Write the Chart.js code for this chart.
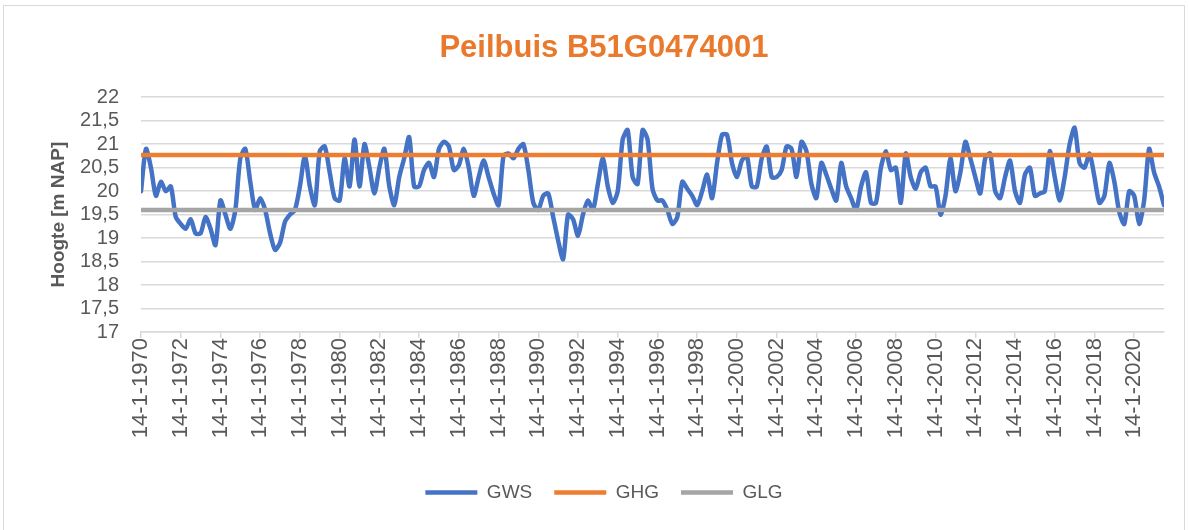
<!DOCTYPE html>
<html>
<head>
<meta charset="utf-8">
<script src="https://cdn.jsdelivr.net/npm/chart.js@4.4.1/dist/chart.umd.min.js"></script>
<style>
  html, body { margin: 0; padding: 0; background: #fff; }
  .frame { position: absolute; left: 3px; top: 5px; width: 1182px; height: 540px;
           border: 1px solid #d9d9d9; box-sizing: border-box; }
  #grafiek { position: absolute; left: 0; top: 0; }
</style>
</head>
<body>
<div class="frame"></div>
<canvas id="grafiek" width="1189" height="530"></canvas>
<script>
// Grondwaterstand peilbuis, kwartaalwaarden (m NAP)
const startJaar = 1970;
const perJaar = 4;
const gws = [
  20.0, 20.9, 20.5, 19.9,    // 1970
  20.2, 20.0, 20.1, 19.45,   // 1971
  19.3, 19.2, 19.4, 19.1,    // 1972
  19.1, 19.45, 19.2, 18.85,  // 1973
  19.8, 19.5, 19.2, 19.6,    // 1974
  20.7, 20.9, 20.2, 19.6,    // 1975
  19.85, 19.6, 19.1, 18.75,  // 1976
  18.9, 19.35, 19.5, 19.6,   // 1977
  20.1, 20.75, 20.1, 19.7,   // 1978
  20.85, 20.95, 20.4, 19.85, // 1979
  19.8, 20.7, 20.1, 21.1,    // 1980
  20.1, 21.0, 20.5, 19.95,   // 1981
  20.5, 20.9, 20.1, 19.7,    // 1982
  20.3, 20.7, 21.15, 20.1,   // 1983
  20.1, 20.45, 20.6, 20.3,   // 1984
  20.9, 21.05, 20.95, 20.45, // 1985
  20.55, 20.9, 20.5, 19.9,   // 1986
  20.3, 20.65, 20.3, 19.95,  // 1987
  19.7, 20.75, 20.8, 20.7,   // 1988
  20.9, 21.0, 20.45, 19.75,  // 1989
  19.6, 19.9, 19.95, 19.45,  // 1990
  18.95, 18.55, 19.5, 19.4,  // 1991
  19.05, 19.5, 19.8, 19.6,   // 1992
  20.15, 20.7, 20.1, 19.75,  // 1993
  20.0, 21.1, 21.3, 20.3,    // 1994
  20.15, 21.3, 21.1, 20.05,  // 1995
  19.8, 19.8, 19.6, 19.3,    // 1996
  19.45, 20.2, 20.05, 19.9,  // 1997
  19.7, 20.0, 20.35, 19.85,  // 1998
  20.6, 21.2, 21.2, 20.6,    // 1999
  20.3, 20.65, 20.75, 20.1,  // 2000
  20.1, 20.7, 20.95, 20.3,   // 2001
  20.3, 20.45, 20.95, 20.9,  // 2002
  20.3, 21.05, 20.85, 20.15, // 2003
  19.85, 20.6, 20.35, 20.05, // 2004
  19.8, 20.6, 20.1, 19.85,   // 2005
  19.6, 20.1, 20.4, 19.75,   // 2006
  19.75, 20.5, 20.85, 20.45, // 2007
  20.5, 19.75, 20.8, 20.3,   // 2008
  20.05, 20.4, 20.5, 20.1,   // 2009
  20.1, 19.5, 19.9, 20.7,    // 2010
  20.0, 20.4, 21.05, 20.7,   // 2011
  20.3, 19.95, 20.7, 20.8,   // 2012
  20.0, 19.85, 20.3, 20.65,  // 2013
  20.0, 19.75, 20.35, 20.5,  // 2014
  19.9, 19.95, 20.0, 20.85,  // 2015
  20.3, 19.8, 20.3, 21.0,    // 2016
  21.35, 20.6, 20.5, 20.8,   // 2017
  20.3, 19.75, 19.9, 20.6,   // 2018
  20.2, 19.55, 19.3, 20.0,   // 2019
  19.9, 19.3, 19.8, 20.9,    // 2020
  20.4, 20.1, 19.7           // 2021
];
const ghg = 20.77;   // gemiddeld hoogste grondwaterstand
const glg = 19.6;    // gemiddeld laagste grondwaterstand
const xTicks = [1970, 1972, 1974, 1976, 1978, 1980, 1982, 1984, 1986, 1988,
  1990, 1992, 1994, 1996, 1998, 2000, 2002, 2004, 2006, 2008, 2010, 2012,
  2014, 2016, 2018, 2020];
const yTicks = [17, 17.5, 18, 18.5, 19, 19.5, 20, 20.5, 21, 21.5, 22];

const punten = gws.map((v, i) => ({ x: startJaar + i / perJaar, y: v }));
const xEind = punten[punten.length - 1].x;
const vlak = (v) => [{ x: startJaar, y: v }, { x: xEind, y: v }];

const GRIJS = "#595959";
const FONT = "'Liberation Sans', Arial, sans-serif";

new Chart(document.getElementById("grafiek"), {
  type: "line",
  data: {
    datasets: [
      { label: "GWS", data: punten, borderColor: "#4472C4", backgroundColor: "#4472C4",
        borderWidth: 4.5, tension: 0.25, order: 2 },
      { label: "GHG", data: vlak(ghg), borderColor: "#ED7D31", backgroundColor: "#ED7D31",
        borderWidth: 4.5, order: 0 },
      { label: "GLG", data: vlak(glg), borderColor: "#A5A5A5", backgroundColor: "#A5A5A5",
        borderWidth: 4.5, order: 1 },
    ].map(d => Object.assign(d, {
      pointRadius: 0, borderCapStyle: "round", borderJoinStyle: "round", fill: false,
    })),
  },
  options: {
    responsive: false,
    animation: false,
    layout: { padding: { left: 44, right: 25, top: 17, bottom: 18 } },
    plugins: {
      title: {
        display: true, text: "Peilbuis B51G0474001", color: "#E97A2D",
        font: { family: FONT, size: 31, weight: "bold" },
        padding: { top: 13, bottom: 30 },
      },
      legend: {
        position: "bottom",
        labels: {
          color: GRIJS, font: { family: FONT, size: 19 },
          usePointStyle: true, pointStyle: "line", pointStyleWidth: 52,
          padding: 22,
          sort: (a, b) => a.datasetIndex - b.datasetIndex,
        },
      },
      tooltip: { enabled: false },
    },
    scales: {
      x: {
        type: "linear", min: startJaar, max: xEind,
        afterBuildTicks: (s) => { s.ticks = xTicks.map(v => ({ value: v })); },
        afterFit: (s) => { s.height = 129; },
        ticks: {
          color: GRIJS, font: { family: FONT, size: 22 },
          minRotation: 90, maxRotation: 90, autoSkip: false, padding: 0,
          callback: (v) => "14-1-" + v,
        },
        grid: { drawOnChartArea: false, drawTicks: true, tickLength: 6,
                color: "#d9d9d9", lineWidth: 1.5 },
        border: { display: true, color: "#d9d9d9", width: 1.5 },
      },
      y: {
        min: 17, max: 22,
        afterBuildTicks: (s) => { s.ticks = yTicks.map(v => ({ value: v })); },
        afterFit: (s) => { s.width = 97; },
        ticks: {
          color: GRIJS, font: { family: FONT, size: 20 }, padding: 22, autoSkip: false,
          callback: (v) => String(v).replace(".", ","),
        },
        grid: { color: "#d9d9d9", lineWidth: 1.5, drawTicks: false },
        border: { display: false },
        title: {
          display: true, text: "Hoogte [m NAP]", color: GRIJS,
          font: { family: FONT, size: 19, weight: "bold" },
          padding: { top: 3, bottom: 0 },
        },
      },
    },
  },
});
</script>
</body>
</html>
